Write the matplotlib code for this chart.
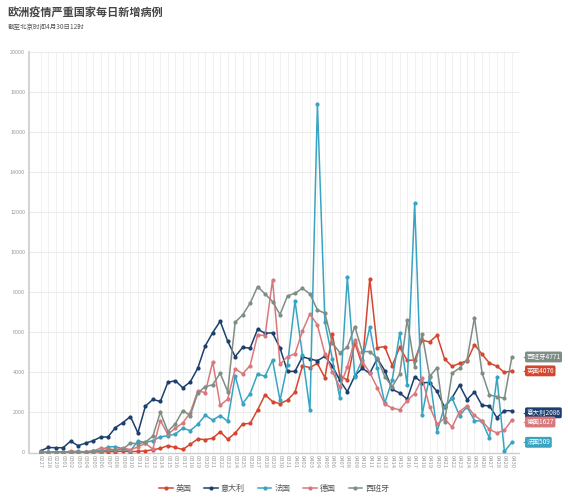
import matplotlib
matplotlib.use("Agg")
import matplotlib.pyplot as plt
import matplotlib.transforms as mtransforms

plt.rcParams['font.family'] = ['Noto Sans CJK SC', 'DejaVu Sans']

# ---------------- data ----------------
dates = (['02%02d' % d for d in (27, 28, 29)] +
         ['03%02d' % d for d in range(1, 32)] +
         ['04%02d' % d for d in range(1, 31)])

uk = [0, 2, 5, 3, 13, 4, 11, 34, 30, 48, 43, 67, 48, 52, 83, 134,
      208, 342, 251, 152, 407, 676, 643, 714, 1035, 665, 967, 1427, 1452, 2129, 2885, 2546,
      2433, 2619, 3009, 4324, 4244, 4450, 3735, 5903, 3802, 3634, 5491, 4344, 8681, 5233, 5288, 4342,
      5252, 4603, 4617, 5599, 5525, 5850, 4676, 4301, 4451, 4583, 5386, 4913, 4463, 4309, 3996, 4076]

italy = [78, 250, 238, 240, 566, 342, 466, 587, 769, 778, 1247, 1492, 1797, 977, 2313, 2651,
         2547, 3497, 3590, 3233, 3526, 4207, 5322, 5986, 6557, 5560, 4789, 5249, 5210, 6153, 5959, 5974,
         5217, 4050, 4053, 4782, 4668, 4585, 4805, 4316, 3599, 3039, 3836, 4204, 3951, 4694, 4092, 3153,
         2972, 2667, 3786, 3493, 3491, 3047, 2256, 2729, 3370, 2646, 3021, 2357, 2324, 1739, 2091, 2086]

france = [4, 20, 19, 43, 30, 61, 13, 81, 92, 276, 296, 177, 83, 575, 497, 595,
          785, 838, 924, 1210, 1097, 1404, 1861, 1617, 1847, 1559, 3838, 2446, 2931, 3922, 3809, 4611,
          2599, 4376, 7578, 4861, 2116, 17400, 6537, 4660, 2713, 8751, 3793, 4626, 6257, 4210, 2463, 3627,
          5958, 3378, 12445, 1881, 3827, 1048, 2300, 2720, 1840, 2280, 1597, 1560, 718, 3761, 50, 509]

germany = [5, 19, 31, 0, 72, 28, 39, 66, 220, 188, 129, 241, 136, 281, 451, 170,
           1597, 910, 1210, 1477, 1985, 3070, 2993, 4528, 2365, 2660, 4183, 3930, 4337, 5870, 5840, 8618,
           4400, 4790, 4923, 6064, 6922, 6365, 4933, 4031, 3251, 4289, 5633, 4541, 3990, 3240, 2420, 2218,
           2130, 2595, 2945, 3699, 2295, 1420, 1700, 1260, 2046, 2330, 1850, 1580, 1150, 975, 1110, 1627]

spain = [2, 2, 9, 13, 13, 36, 45, 57, 37, 141, 100, 173, 469, 436, 520, 815,
         2015, 1048, 1432, 2096, 1846, 2964, 3293, 3378, 3961, 3045, 6506, 6871, 7453, 8284, 7919, 7535,
         6890, 7819, 7953, 8202, 7919, 7120, 6954, 5458, 4990, 5258, 6288, 5040, 5040, 4709, 3793, 3293,
         3911, 6622, 4292, 5906, 3793, 4242, 1536, 3968, 4211, 4635, 6740, 3995, 2870, 2793, 2706, 4771]

names = ['英国', '意大利', '法国', '德国', '西班牙']
series = [uk, italy, france, germany, spain]
colors = ['#d4462f', '#1c3f6e', '#38a4c2', '#d9787c', '#7f8d85']

yticks = list(range(0, 20001, 2000))

# ---------------- figure ----------------
W, H = 568, 500
fig = plt.figure(figsize=(W / 100, H / 100), dpi=100)
fig.patch.set_facecolor('white')
ax = fig.add_axes([29.3 / W, 47.5 / H, (519 - 29.3) / W, (452.5 - 52) / H])

x = list(range(len(dates)))
handles = []
for name, vals, c in zip(names, series, colors):
    h, = ax.plot(x, vals, color=c, lw=1.1, marker='o', ms=3.0,
                 markeredgewidth=0, label=name, zorder=3)
    handles.append(h)

ax.set_xlim(-1.52, 63.95)
ax.set_ylim(0, 20000)
ax.set_yticks(yticks)
ax.set_yticklabels([str(v) for v in yticks], fontsize=3.9, color='#999999')
ax.set_xticks(x)
ax.set_xticklabels(dates, rotation=270, fontsize=4.2, color='#999999',
                   ha='center', va='top')
ax.tick_params(axis='both', length=0, pad=2)
ax.tick_params(axis='y', pad=3)

ax.grid(axis='y', color='#e8e8e8', lw=0.6, zorder=0)
ax.grid(axis='x', color='#efefef', lw=0.6, zorder=0)
for s in ('top', 'right'):
    ax.spines[s].set_visible(False)
ax.spines['left'].set_color('#cccccc')
ax.spines['left'].set_linewidth(1.2)
ax.spines['bottom'].set_color('#cccccc')
ax.spines['bottom'].set_linewidth(1.0)

# end labels
last = len(dates) - 1
label_dy = {'英国': 0, '意大利': -1.5, '法国': 0, '德国': -1.5, '西班牙': 0}
for name, vals, c in zip(names, series, colors):
    v = vals[last]
    dy = label_dy[name]
    ax.annotate(f'{name}{v}', xy=(last, v), xytext=(10.5, dy),
                textcoords='offset points', ha='left', va='center',
                fontsize=4.7, color='white', annotation_clip=False,
                bbox=dict(boxstyle='round,pad=0.22,rounding_size=0.25',
                          fc=c, ec='none'), zorder=5)
    tr = mtransforms.offset_copy(ax.transData, fig=fig, x=9.3, y=dy, units='points')
    ax.plot([last], [v], marker='<', ms=3.2, color=c, markeredgewidth=0,
            transform=tr, clip_on=False, zorder=5)

# title
fig.text(7 / W, 1 - 13.3 / H, '欧洲疫情严重国家每日新增病例', fontsize=8,
         fontweight='bold', color='#454545', ha='left', va='center')
fig.text(7.3 / W, 1 - 27.5 / H, '截至北京时间4月30日12时', fontsize=4.7,
         color='#555555', ha='left', va='center')

# legend
fig.legend(handles=handles, labels=names, loc='center', ncol=5,
           bbox_to_anchor=(274 / W, 1 - 488 / H), frameon=False,
           fontsize=5.8, handlelength=1.7, handletextpad=0.35,
           columnspacing=1.6, labelcolor='#555555')

fig.savefig('out.png', dpi=100, facecolor='white')
